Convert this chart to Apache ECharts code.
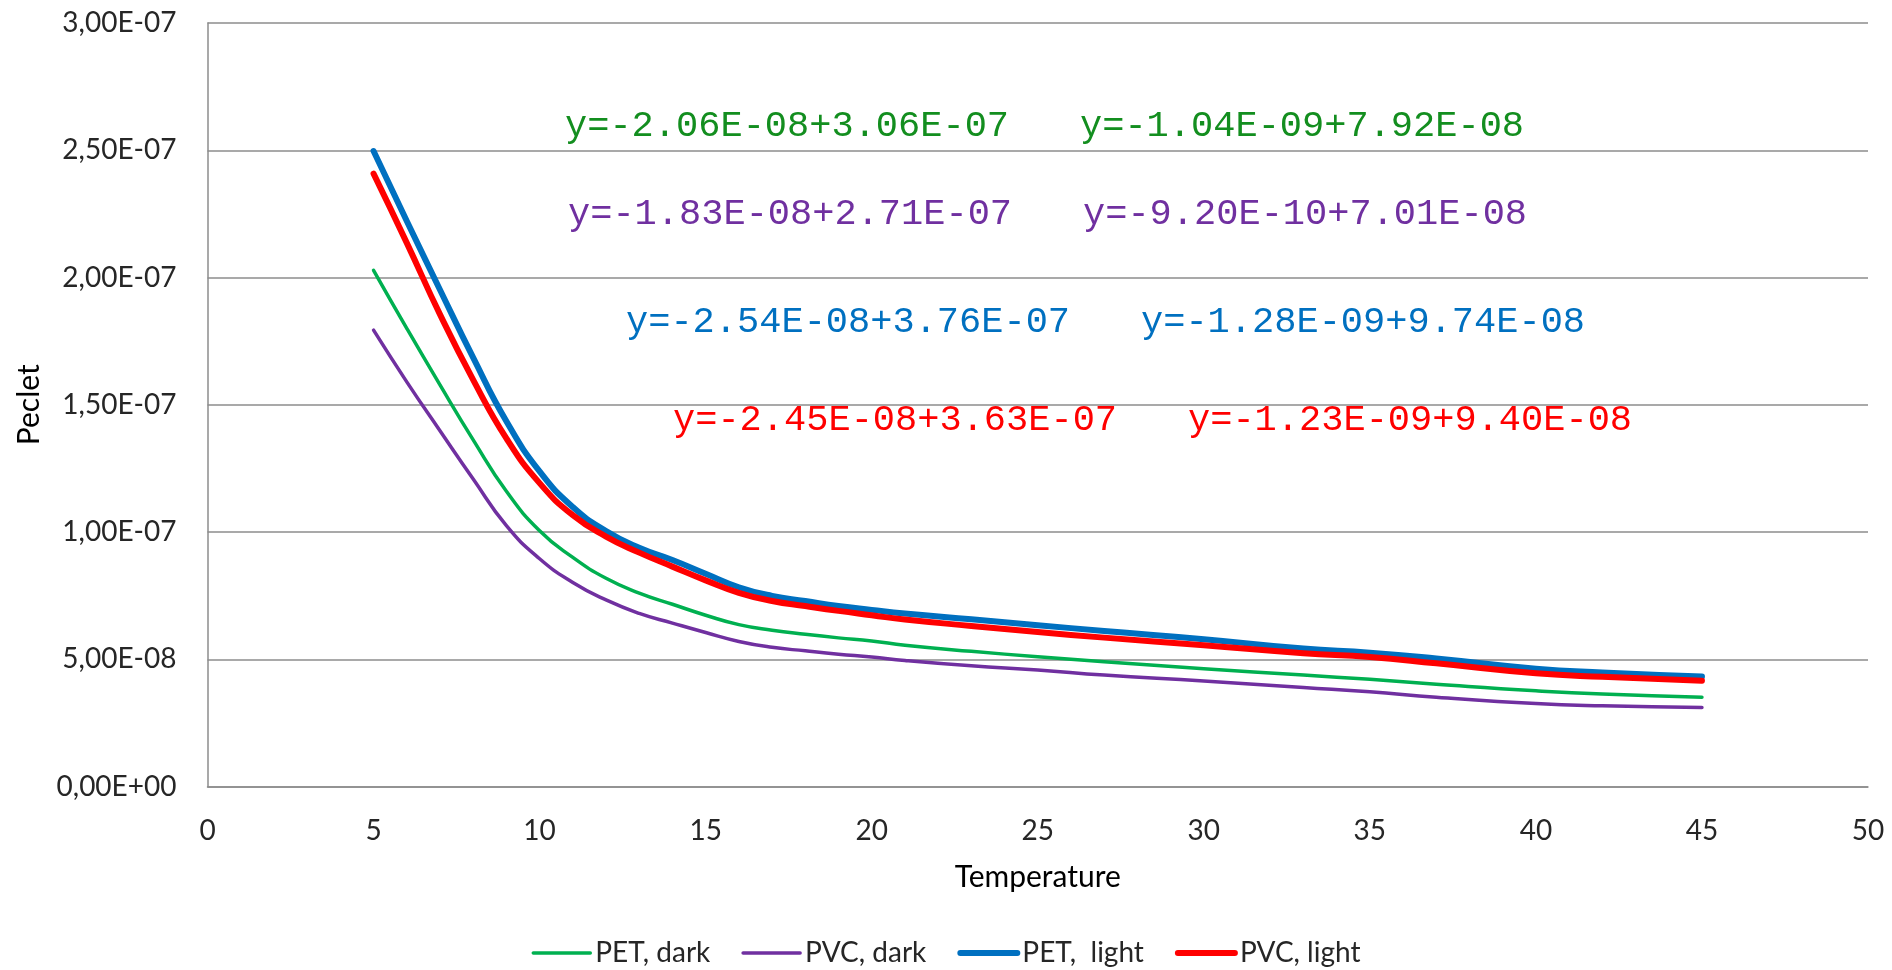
<!DOCTYPE html>
<html>
<head>
<meta charset="utf-8">
<title>Peclet vs Temperature</title>
<script src="https://cdn.jsdelivr.net/npm/echarts@6/dist/echarts.min.js"></script>
<style>
  html, body { margin: 0; padding: 0; background: #ffffff; }
  #chart { width: 1892px; height: 970px; }
</style>
</head>
<body>
<div id="chart"></div>
<script>
// Temperature values at which the Peclet number was evaluated
const temperature = [5, 6, 7, 8, 9, 10, 11, 12, 13, 14, 15, 16, 17, 18, 19, 20, 21, 23, 25, 27, 30, 33, 35, 37, 40, 42, 45];

// Peclet number per material / lighting condition
const petDark = [2.028e-7, 1.800e-7, 1.578e-7, 1.362e-7, 1.160e-7, 1.005e-7, 0.900e-7, 0.818e-7, 0.760e-7, 0.716e-7, 0.673e-7, 0.636e-7, 0.614e-7, 0.598e-7, 0.584e-7, 0.572e-7, 0.555e-7, 0.531e-7, 0.510e-7, 0.490e-7, 0.463e-7, 0.438e-7, 0.421e-7, 0.402e-7, 0.376e-7, 0.363e-7, 0.351e-7];
const pvcDark = [1.793e-7, 1.590e-7, 1.398e-7, 1.208e-7, 1.025e-7, 0.895e-7, 0.802e-7, 0.733e-7, 0.680e-7, 0.642e-7, 0.605e-7, 0.570e-7, 0.547e-7, 0.533e-7, 0.520e-7, 0.509e-7, 0.495e-7, 0.474e-7, 0.458e-7, 0.438e-7, 0.415e-7, 0.389e-7, 0.372e-7, 0.351e-7, 0.326e-7, 0.317e-7, 0.310e-7];
const petLight = [2.497e-7, 2.222e-7, 1.952e-7, 1.685e-7, 1.435e-7, 1.238e-7, 1.098e-7, 1.004e-7, 0.938e-7, 0.890e-7, 0.836e-7, 0.783e-7, 0.749e-7, 0.729e-7, 0.709e-7, 0.694e-7, 0.680e-7, 0.657e-7, 0.634e-7, 0.611e-7, 0.579e-7, 0.542e-7, 0.526e-7, 0.503e-7, 0.463e-7, 0.448e-7, 0.432e-7];
const pvcLight = [2.408e-7, 2.136e-7, 1.855e-7, 1.598e-7, 1.368e-7, 1.192e-7, 1.066e-7, 0.982e-7, 0.919e-7, 0.864e-7, 0.810e-7, 0.761e-7, 0.729e-7, 0.709e-7, 0.690e-7, 0.673e-7, 0.656e-7, 0.631e-7, 0.607e-7, 0.585e-7, 0.555e-7, 0.524e-7, 0.509e-7, 0.484e-7, 0.445e-7, 0.431e-7, 0.416e-7];

const seriesNames = ['PET, dark', 'PVC, dark', 'PET,  light', 'PVC, light'];
const seriesColors = ['#00B050', '#7030A0', '#0070C0', '#FF0000'];
const seriesWidths = [3.5, 3.5, 6, 6];

// Linear trend equations (steep part, flat part) for each series
const eqPetDark = ['y=-2.06E-08+3.06E-07', 'y=-1.04E-09+7.92E-08'];
const eqPvcDark = ['y=-1.83E-08+2.71E-07', 'y=-9.20E-10+7.01E-08'];
const eqPetLight = ['y=-2.54E-08+3.76E-07', 'y=-1.28E-09+9.74E-08'];
const eqPvcLight = ['y=-2.45E-08+3.63E-07', 'y=-1.23E-09+9.40E-08'];

const uiFont = 'Lato, "Open Sans", sans-serif';
const monoFont = '"Liberation Mono", "DejaVu Sans Mono", monospace';

function pairs(xs, ys) {
  return xs.map((x, i) => [x, ys[i]]);
}

// "2.50e-7" -> "2,50E-07"
function sciComma(v) {
  const s = Number(v).toExponential(2);
  const parts = s.split('e');
  const mant = parts[0].replace('.', ',');
  let exp = parseInt(parts[1], 10);
  const sign = exp < 0 ? '-' : '+';
  exp = Math.abs(exp);
  return mant + 'E' + sign + (exp < 10 ? '0' + exp : String(exp));
}

function lineSeries(i, ys) {
  return {
    name: seriesNames[i],
    type: 'line',
    data: pairs(temperature, ys),
    smooth: 0.5,
    symbol: 'none',
    lineStyle: { color: seriesColors[i], width: seriesWidths[i], cap: 'round', join: 'round' },
    itemStyle: { color: seriesColors[i] },
    emphasis: { disabled: true },
    animation: false
  };
}

function eqText(left, cy, str, color) {
  return {
    type: 'text',
    left: left,
    top: cy - 18.5,
    style: {
      text: str,
      fill: color,
      font: '37px ' + monoFont
    },
    silent: true
  };
}

const chart = echarts.init(document.getElementById('chart'), null, { renderer: 'canvas' });

chart.setOption({
  backgroundColor: '#ffffff',
  animation: false,
  grid: { left: 207.5, right: 24, top: 23, bottom: 183.5, containLabel: false },
  xAxis: {
    type: 'value',
    min: 0,
    max: 50,
    interval: 5,
    name: 'Temperature',
    nameLocation: 'middle',
    nameGap: 76,
    nameTextStyle: { fontFamily: uiFont, fontSize: 30, color: '#000000' },
    axisLine: { show: true, lineStyle: { color: '#8c8c8c', width: 1.5 } },
    axisTick: { show: false },
    axisLabel: { fontFamily: uiFont, fontSize: 28, color: '#262626', margin: 30 },
    splitLine: { show: false }
  },
  yAxis: {
    type: 'value',
    min: 0,
    max: 3e-7,
    interval: 5e-8,
    name: 'Peclet',
    nameLocation: 'middle',
    nameRotate: 90,
    nameGap: 163,
    nameTextStyle: { fontFamily: uiFont, fontSize: 30, color: '#000000' },
    axisLine: { show: true, lineStyle: { color: '#8c8c8c', width: 1.5 } },
    axisTick: { show: false },
    axisLabel: { fontFamily: uiFont, fontSize: 28, color: '#262626', margin: 31, formatter: sciComma },
    splitLine: { show: true, lineStyle: { color: '#8c8c8c', width: 1.5 } }
  },
  legend: {
    top: 934,
    left: 'center',
    itemWidth: 57,
    itemHeight: 14,
    itemGap: 31,
    itemStyle: { opacity: 0 },
    textStyle: { fontFamily: uiFont, fontSize: 28, color: '#262626' },
    data: seriesNames.map((n, i) => ({
      name: n,
      itemStyle: { opacity: 0 },
      lineStyle: { width: seriesWidths[i], color: seriesColors[i], cap: 'round' }
    }))
  },
  series: [
    lineSeries(0, petDark),
    lineSeries(1, pvcDark),
    lineSeries(2, petLight),
    lineSeries(3, pvcLight)
  ],
  graphic: [
    eqText(565, 126, eqPetDark[0], '#138E1F'),
    eqText(1080, 126, eqPetDark[1], '#138E1F'),
    eqText(568, 214.5, eqPvcDark[0], '#7030A0'),
    eqText(1083, 214.5, eqPvcDark[1], '#7030A0'),
    eqText(626, 322.5, eqPetLight[0], '#0070C0'),
    eqText(1141, 322.5, eqPetLight[1], '#0070C0'),
    eqText(673, 420, eqPvcLight[0], '#FF0000'),
    eqText(1188, 420, eqPvcLight[1], '#FF0000')
  ]
});
</script>
</body>
</html>
